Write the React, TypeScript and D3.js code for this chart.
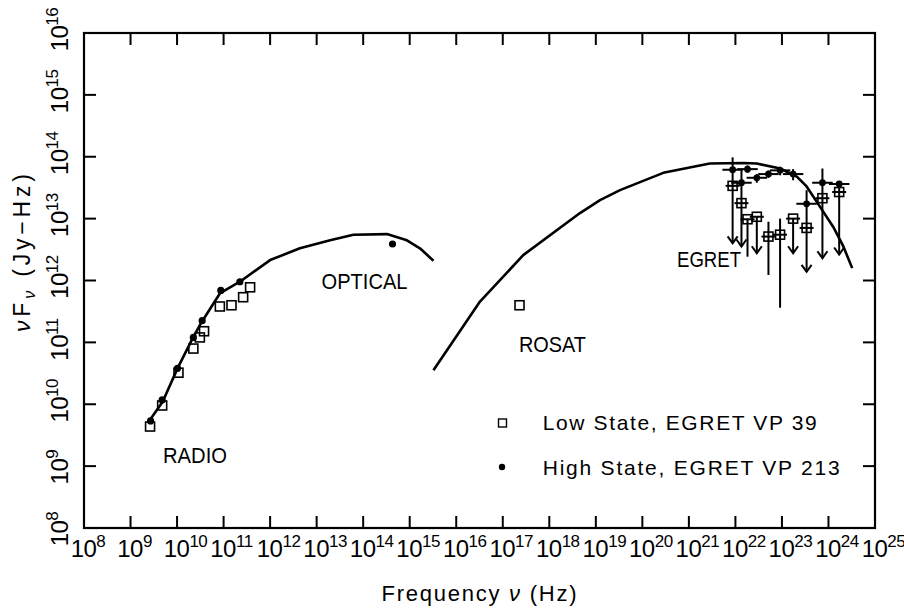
import React from 'react';
import * as d3 from 'd3';

// ---- Axis ticks (decade exponents) ----
const xTickExps = d3.range(8, 26);
const yTickExps = d3.range(8, 17);

// ---- Model curves (log10 nu, log10 nuFnu) ----
const syncLogNu = [9.42, 9.69, 10.01, 10.35, 10.53, 10.92, 11.35, 12.0, 12.64, 13.29, 13.79, 14.51, 14.94, 15.22, 15.51];
const syncLogF = [9.75, 10.04, 10.58, 11.09, 11.33, 11.79, 11.98, 12.33, 12.52, 12.65, 12.74, 12.75, 12.65, 12.52, 12.32];
const compLogNu = [15.51, 16.51, 17.44, 18.66, 19.09, 19.52, 20.45, 21.45, 22.17, 22.46, 22.96, 23.32, 23.53, 23.82, 24.10, 24.32, 24.51];
const compLogF = [10.55, 11.66, 12.41, 13.09, 13.30, 13.46, 13.74, 13.89, 13.90, 13.89, 13.81, 13.68, 13.52, 13.19, 12.87, 12.55, 12.20];

// ---- Low state (open squares): radio + ROSAT ----
const lowLogNu = [9.42, 9.68, 10.03, 10.35, 10.49, 10.58, 10.92, 11.17, 11.42, 11.57, 17.36];
const lowLogF = [9.64, 9.98, 10.51, 10.90, 11.08, 11.18, 11.58, 11.60, 11.73, 11.89, 11.60];

// ---- High state (dots): radio + optical ----
const highLogNu = [9.43, 9.68, 10.01, 10.35, 10.54, 10.94, 11.35, 14.63];
const highLogF = [9.73, 10.07, 10.58, 11.08, 11.35, 11.84, 11.98, 12.59];

// ---- EGRET low state ----
const egretLowLogNu = [21.94, 22.13, 22.26, 22.46, 22.71, 22.96, 23.24, 23.53, 23.87, 24.23];
const egretLowLogF = [13.53, 13.25, 12.99, 13.03, 12.71, 12.74, 13.0, 12.85, 13.33, 13.43];
const egretLowErrTop = [13.53, 13.25, 12.99, 13.03, 12.95, 13.0, 13.0, 12.85, 13.33, 13.43];
const egretLowErrBottom = [12.60, 12.55, 12.385, 12.44, 12.09, 11.56, 12.44, 12.14, 12.36, 12.42];
const egretLowIsLimit = [true, true, false, true, false, false, true, true, true, true];
const egretLowBinHalf = [0.15, 0.15, 0.15, 0.15, 0.15, 0.15, 0.15, 0.15, 0.15, 0.15];

// ---- EGRET high state ----
const egretHighLogNu = [21.94, 22.13, 22.26, 22.46, 22.71, 22.96, 23.24, 23.53, 23.87, 24.23];
const egretHighLogF = [13.79, 13.58, 13.80, 13.66, 13.72, 13.78, 13.72, 13.24, 13.58, 13.56];
const egretHighErrTop = [13.99, 13.79, 13.86, 13.72, 13.78, 13.84, 13.80, 13.46, 13.81, 13.60];
const egretHighErrBottom = [13.53, 13.25, 13.74, 13.58, 13.66, 13.70, 13.62, 12.85, 13.33, 13.43];
const egretHighBinHalf = [0.22, 0.22, 0.22, 0.22, 0.22, 0.22, 0.22, 0.22, 0.22, 0.22];

// ---- Text labels ----
const regionLabels = ['RADIO', 'OPTICAL', 'ROSAT', 'EGRET'];
const legendLabels = ['Low State, EGRET VP 39', 'High State, EGRET VP 213'];

const W = 904;
const H = 609;
const M = { left: 84, right: 875, top: 33, bottom: 528 };
const FONT = '"Liberation Sans", Arial, Helvetica, sans-serif';

export default function App() {
  const x = d3.scaleLog().domain([1e8, 1e25]).range([M.left, M.right]);
  const y = d3.scaleLog().domain([1e8, 1e16]).range([M.bottom, M.top]);
  const px = (l: number) => x(Math.pow(10, l));
  const py = (l: number) => y(Math.pow(10, l));

  const line = d3
    .line<[number, number]>()
    .x((d) => px(d[0]))
    .y((d) => py(d[1]));

  const syncPts: [number, number][] = syncLogNu.map((v, i) => [v, syncLogF[i]]);
  const compPts: [number, number][] = compLogNu.map((v, i) => [v, compLogF[i]]);

  const tickLen = 12;
  const sq = 4.5;
  const tickFont = 24;
  const expFont = 17;
  const half10 = tickFont * 0.556;

  // label positions (pixel) for region labels
  const labelPos = [
    { x: 163, y: 463, len: 64 },
    { x: 321.5, y: 289, len: 86 },
    { x: 519, y: 352, len: 67 },
    { x: 677, y: 267, len: 64 },
  ];

  return (
    <div style={{ position: 'absolute', left: 0, top: 0 }}>
      <svg width={W} height={H} viewBox={`0 0 ${W} ${H}`} style={{ display: 'block', background: '#fff' }} fontFamily={FONT}>
        <rect x={0} y={0} width={W} height={H} fill="#fff" />
        {/* frame */}
        <rect x={M.left} y={M.top} width={M.right - M.left} height={M.bottom - M.top} fill="none" stroke="#000" strokeWidth={2.2} />
        {/* x ticks */}
        {xTickExps.map((e) => {
          const xx = px(e);
          return (
            <g key={'xt' + e}>
              <line x1={xx} x2={xx} y1={M.bottom} y2={M.bottom - tickLen} stroke="#000" strokeWidth={2} />
              <line x1={xx} x2={xx} y1={M.top} y2={M.top + tickLen} stroke="#000" strokeWidth={2} />
              <text x={xx - half10} y={557} fontSize={tickFont} fill="#000" letterSpacing={-0.5}>
                10
                <tspan dy={-10} fontSize={expFont}>{e}</tspan>
              </text>
            </g>
          );
        })}
        {/* y ticks */}
        {yTickExps.map((e) => {
          const yy = py(e);
          return (
            <g key={'yt' + e}>
              <line x1={M.left} x2={M.left + tickLen} y1={yy} y2={yy} stroke="#000" strokeWidth={2} />
              <line x1={M.right} x2={M.right - tickLen} y1={yy} y2={yy} stroke="#000" strokeWidth={2} />
              <text transform={`translate(68, ${yy + 5}) rotate(-90)`} x={-half10} y={0} fontSize={tickFont} fill="#000" letterSpacing={-0.5}>
                10
                <tspan dy={-10} fontSize={expFont}>{e}</tspan>
              </text>
            </g>
          );
        })}

        {/* axis titles */}
        <text x={381.5} y={601} fontSize={22} textLength={195} lengthAdjust="spacing" fill="#000">
          Frequency <tspan fontStyle="italic">ν</tspan> (Hz)
        </text>
        <text transform="translate(30, 332) rotate(-90)" x={0} y={0} fontSize={23} textLength={158} lengthAdjust="spacing" fill="#000">
          <tspan fontStyle="italic">ν</tspan>F
          <tspan dy={5} fontSize={16} fontStyle="italic">ν</tspan>
          <tspan dy={-5}> (Jy−Hz)</tspan>
        </text>

        {/* curves */}
        <path d={line(syncPts) || ''} fill="none" stroke="#000" strokeWidth={2.6} strokeLinejoin="round" />
        <path d={line(compPts) || ''} fill="none" stroke="#000" strokeWidth={2.6} strokeLinejoin="round" />

        {/* low state squares (radio, ROSAT) */}
        {lowLogNu.map((v, i) => (
          <rect key={'ls' + i} x={px(v) - sq} y={py(lowLogF[i]) - sq} width={sq * 2} height={sq * 2} fill="none" stroke="#000" strokeWidth={1.6} />
        ))}
        {/* high state dots */}
        {highLogNu.map((v, i) => (
          <circle key={'hd' + i} cx={px(v)} cy={py(highLogF[i])} r={3.6} fill="#000" />
        ))}

        {/* EGRET low state */}
        {egretLowLogNu.map((v, i) => {
          const cx = px(v);
          const cy = py(egretLowLogF[i]);
          const yt = py(egretLowErrTop[i]);
          const yb = py(egretLowErrBottom[i]);
          return (
            <g key={'el' + i} stroke="#000" strokeWidth={2} fill="none">
              <line x1={cx} x2={cx} y1={yt} y2={yb} />
              <line x1={px(v - egretLowBinHalf[i])} x2={px(v + egretLowBinHalf[i])} y1={cy} y2={cy} />
              <rect x={cx - sq} y={cy - sq} width={sq * 2} height={sq * 2} strokeWidth={1.6} />
              {egretLowIsLimit[i] && <polyline points={`${cx - 5},${yb - 7} ${cx},${yb} ${cx + 5},${yb - 7}`} />}
            </g>
          );
        })}
        {/* EGRET high state */}
        {egretHighLogNu.map((v, i) => {
          const cx = px(v);
          const cy = py(egretHighLogF[i]);
          return (
            <g key={'eh' + i} stroke="#000" strokeWidth={2} fill="none">
              <line x1={cx} x2={cx} y1={py(egretHighErrTop[i])} y2={py(egretHighErrBottom[i])} />
              <line x1={px(v - egretHighBinHalf[i])} x2={px(v + egretHighBinHalf[i])} y1={cy} y2={cy} />
              <circle cx={cx} cy={cy} r={3.4} fill="#000" stroke="none" />
            </g>
          );
        })}

        {/* region labels */}
        {regionLabels.map((t, i) => (
          <text key={'rl' + i} x={labelPos[i].x} y={labelPos[i].y} fontSize={22} textLength={labelPos[i].len} lengthAdjust="spacingAndGlyphs" fill="#000">
            {t}
          </text>
        ))}

        {/* legend */}
        <rect x={498.5} y={419} width={8} height={8} fill="none" stroke="#000" strokeWidth={1.4} />
        <text x={542.7} y={430} fontSize={21} textLength={274} lengthAdjust="spacing" fill="#000">
          {legendLabels[0]}
        </text>
        <circle cx={502} cy={467} r={3.2} fill="#000" />
        <text x={542.7} y={475} fontSize={21} textLength={297} lengthAdjust="spacing" fill="#000">
          {legendLabels[1]}
        </text>
      </svg>
    </div>
  );
}
